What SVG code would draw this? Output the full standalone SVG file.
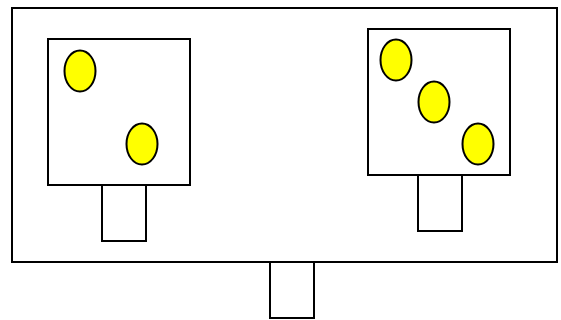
<svg xmlns="http://www.w3.org/2000/svg" width="561" height="320" viewBox="0 0 561 320">
<style>
.box{fill:#ffffff;stroke:#000000;stroke-width:2}
.dot{fill:#ffff00;stroke:#000000;stroke-width:2}
</style>
<rect width="561" height="320" fill="#ffffff"/>
<g id="base">
<rect class="box" x="12" y="8" width="545" height="254"/>
<rect class="box" x="270" y="262" width="44" height="56"/>
</g>
<g id="left-die">
<rect class="box" x="102" y="185" width="44" height="56"/>
<rect class="box" x="48" y="39" width="142" height="146"/>
<ellipse class="dot" cx="80" cy="71" rx="15.5" ry="20.5"/>
<ellipse class="dot" cx="142" cy="144" rx="15.5" ry="20.5"/>
</g>
<g id="right-die">
<rect class="box" x="418" y="175" width="44" height="56"/>
<rect class="box" x="368" y="29" width="142" height="146"/>
<ellipse class="dot" cx="396" cy="60" rx="15.5" ry="20.5"/>
<ellipse class="dot" cx="434" cy="102" rx="15.5" ry="20.5"/>
<ellipse class="dot" cx="478" cy="144" rx="15.5" ry="20.5"/>
</g>
<g id="connectors"></g>
</svg>
